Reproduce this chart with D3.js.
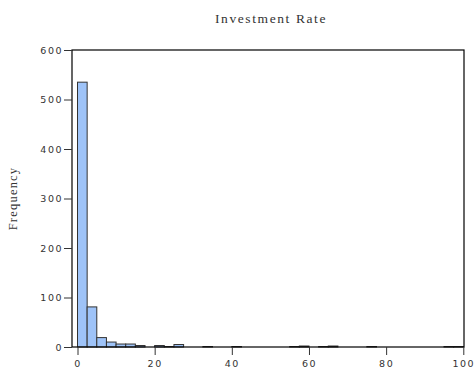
<!DOCTYPE html>
<html>
<head>
<meta charset="utf-8">
<script src="https://cdn.jsdelivr.net/npm/d3@7"></script>
<style>
  body { margin: 0; background: #fff; }
  text { fill: #333; }
</style>
</head>
<body>
<script>
// histogram of Investment Rate, bins 2.5 wide from 0 to 100
const binWidth = 2.5;
const counts = [535, 81, 19, 10, 6, 6, 3, 0, 3, 1,
                5, 0, 0, 1, 0, 0, 1, 0, 0, 0,
                0, 0, 1, 2, 0, 1, 2, 0, 0, 0,
                1, 0, 0, 0, 0, 0, 0, 0, 1, 1];
const xTicks = [0, 20, 40, 60, 80, 100];
const yTicks = [0, 100, 200, 300, 400, 500, 600];

const bins = counts.map((c, i) => ({x0: i * binWidth, x1: (i + 1) * binWidth, count: c}));

const width = 476, height = 370;
const frame = {left: 72, right: 464, top: 50, bottom: 347};

const svg = d3.select('body').append('svg')
    .attr('width', width)
    .attr('height', height);

const scaleX = d3.scaleLinear()
    .domain([0, 100])
    .range([77.5, 463.3]);

const scaleY = d3.scaleLinear()
    .domain([0, 600])
    .range([frame.bottom, frame.top]);

// bars
svg.append('g')
    .selectAll('rect')
    .data(bins.filter(d => d.count > 0))
    .enter()
    .append('rect')
    .attr('x', d => scaleX(d.x0))
    .attr('width', d => scaleX(d.x1) - scaleX(d.x0))
    .attr('y', d => scaleY(d.count))
    .attr('height', d => scaleY(0) - scaleY(d.count))
    .attr('fill', '#9ec3f8')
    .attr('stroke', '#333')
    .attr('stroke-width', 1);

// frame
svg.append('rect')
    .attr('x', frame.left)
    .attr('y', frame.top)
    .attr('width', frame.right - frame.left)
    .attr('height', frame.bottom - frame.top)
    .attr('fill', 'none')
    .attr('stroke', '#000')
    .attr('stroke-width', 1.2);

const xAxis = d3.axisBottom(scaleX).tickValues(xTicks).tickSize(8).tickSizeOuter(0);
const yAxis = d3.axisLeft(scaleY).tickValues(yTicks).tickSize(8).tickSizeOuter(0);

const xg = svg.append('g')
    .attr('transform', `translate(0, ${frame.bottom})`)
    .call(xAxis);
xg.select('.domain').remove();

const yg = svg.append('g')
    .attr('transform', `translate(${frame.left}, 0)`)
    .call(yAxis);
yg.select('.domain').remove();

svg.selectAll('.tick line').attr('stroke', '#333');
svg.selectAll('.tick text')
    .attr('font-family', 'DejaVu Sans, sans-serif')
    .attr('font-size', 9.5)
    .attr('letter-spacing', 1.5)
    .attr('fill', '#444');
xg.selectAll('.tick text').attr('dy', '0.9em');
yg.selectAll('.tick text').attr('x', -9);

// title
svg.append('text')
    .attr('x', 271)
    .attr('y', 23)
    .attr('text-anchor', 'middle')
    .attr('font-family', 'Liberation Serif, serif')
    .attr('font-size', 13.5)
    .attr('letter-spacing', 1.6)
    .text('Investment Rate');

// y label
svg.append('text')
    .attr('transform', `translate(17, ${(frame.top + frame.bottom) / 2}) rotate(-90)`)
    .attr('text-anchor', 'middle')
    .attr('font-family', 'Liberation Serif, serif')
    .attr('font-size', 12.5)
    .attr('letter-spacing', 1.2)
    .text('Frequency');
</script>
</body>
</html>
